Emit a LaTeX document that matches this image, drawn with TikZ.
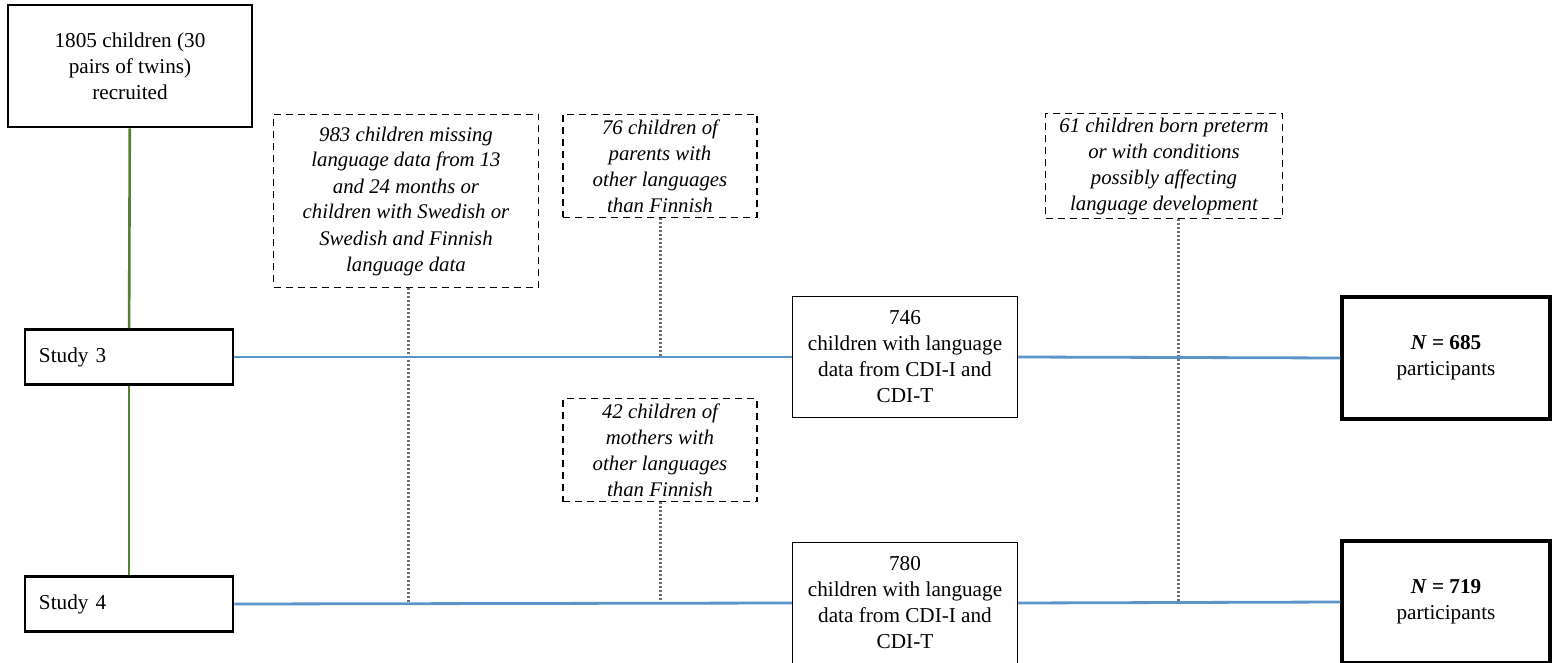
\documentclass[tikz,border=0pt]{standalone}
\usepackage{fontspec}
\setmainfont{Liberation Serif}
\usetikzlibrary{positioning}
\definecolor{FlowGreen}{RGB}{84,130,53}
\definecolor{FlowBlue}{RGB}{91,148,200}
\definecolor{FlowGray}{RGB}{110,110,110}

\begin{document}
\begin{tikzpicture}[x=0.5pt, y=-0.5pt,
          every node/.style={font=\fontsize{10.6}{13}\selectfont},
          solidbox/.style={rectangle, draw=black, line width=1.4pt, align=center,
                           minimum width=122pt, minimum height=61pt, inner sep=2pt},
          studybox/.style={rectangle, draw=black, line width=1.4pt, align=left,
                           text width=90pt, minimum height=27.5pt, inner xsep=7pt},
          keptbox/.style={rectangle, draw=black, line width=0.7pt, align=center,
                          minimum width=112.5pt, minimum height=60.5pt, inner sep=2pt},
          finalbox/.style={rectangle, draw=black, line width=1.7pt, align=center,
                           minimum width=104pt, minimum height=61pt},
          exclbox/.style={rectangle, draw=black, dash pattern=on 3.5pt off 2.5pt,
                          line width=0.75pt, align=center,
                          font=\fontsize{10.4}{13}\selectfont\itshape, inner sep=2pt},
          tree/.style={draw=FlowGreen, line width=1.3pt},
          flow/.style={draw=FlowBlue, line width=1.4pt},
          drop/.style={draw=FlowGray, dash pattern=on 1pt off 1pt, line width=1.5pt}
        ]
        \useasboundingbox (0,0) rectangle (1553,663);

        % recruited sample and studies
        \node[solidbox] (rec) at (130,66)
              {1805 children (30\\pairs of twins)\\recruited};
        \node[studybox] (s3) at (129,357) {Study 3};
        \node[studybox] (s4) at (129,604) {Study 4};

        % exclusions
        \node[exclbox, minimum width=132.5pt, minimum height=86.5pt] (d983) at (406,201)
              {983 children missing\\language data from 13\\and 24 months or\\children with Swedish or\\Swedish and Finnish\\language data};
        \node[exclbox, minimum width=97pt, minimum height=51.5pt] (d76) at (660,166)
              {76 children of\\parents with\\other languages\\than Finnish};
        \node[exclbox, minimum width=97pt, minimum height=51.5pt] (d42) at (660,450)
              {42 children of\\mothers with\\other languages\\than Finnish};
        \node[exclbox, minimum width=118.5pt, minimum height=51.5pt] (d61) at (1164,166)
              {61 children born preterm\\or with conditions\\possibly affecting\\language development};

        % remaining samples
        \node[keptbox] (k746) at (905,357)
              {746\\children with language\\data from CDI-I and\\CDI-T};
        \node[keptbox] (k780) at (905,603)
              {780\\children with language\\data from CDI-I and\\CDI-T};
        \node[finalbox] (n685) at (1446,358)
              {\textbf{\textit{N} = 685}\\participants};
        \node[finalbox] (n719) at (1446,602)
              {\textbf{\textit{N} = 719}\\participants};

        \coordinate (j983) at (408,603);
        \coordinate (j76)  at (660,357);
        \coordinate (j42)  at (660,603);
        \coordinate (j61)  at (1178,601);

        \draw[tree] (rec) -- (s3);
        \draw[tree] (s3)  -- (s4);

        \draw[drop] (d983.south -| j983) -- (j983);
        \draw[drop] (d76.south)          -- (j76);
        \draw[drop] (d42.south)          -- (j42);
        \draw[drop] (d61.south -| j61)   -- (j61);

        \draw[flow] (s3.east)   -- (k746.west);
        \draw[flow] (k746.east) -- (n685.west);
        \draw[flow] (s4.east)   -- (k780.west);
        \draw[flow] (k780.east) -- (n719.west);
      \end{tikzpicture}
\end{document}
